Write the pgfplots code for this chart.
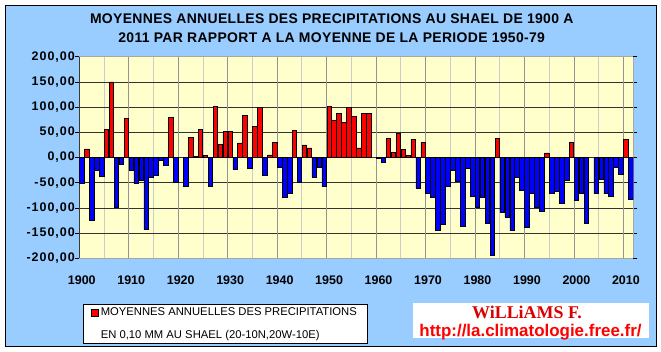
\documentclass[border=0pt]{standalone}
\usepackage{pgfplots}
\pgfplotsset{compat=1.18}
\usepackage{pgfplotstable}
\usepackage{fontspec}
\setmainfont{Liberation Sans}
\newfontfamily\wserif{Liberation Serif}
\newfontfamily\titlefont[LetterSpace=2.4]{Liberation Sans}
\newfontfamily\ylabfont[LetterSpace=8]{Liberation Sans}
\definecolor{bgblue}{HTML}{99CCFF}
\definecolor{plotbg}{HTML}{FFFFCC}
\definecolor{barred}{HTML}{FF0000}
\definecolor{barblue}{HTML}{0000FF}

\pgfplotstableread{
year val
1900 -52
1901 17
1902 -124
1903 -25
1904 -38
1905 55
1906 150
1907 -98
1908 -14
1909 78
1910 -25
1911 -52
1912 -45
1913 -143
1914 -40
1915 -36
1916 -6
1917 -15
1918 80
1919 -50
1920 0
1921 -57
1922 40
1923 2
1924 55
1925 4
1926 -57
1927 102
1928 26
1929 51
1930 51
1931 -24
1932 29
1933 84
1934 -22
1935 61
1936 100
1937 -36
1938 5
1939 30
1940 -19
1941 -79
1942 -71
1943 54
1944 -50
1945 25
1946 19
1947 -39
1948 -20
1949 -57
1950 102
1951 73
1952 88
1953 69
1954 100
1955 81
1956 19
1957 88
1958 88
1959 0
1960 -2
1961 -9
1962 38
1963 10
1964 48
1965 16
1966 4
1967 36
1968 -61
1969 30
1970 -71
1971 -78
1972 -145
1973 -133
1974 -57
1975 -25
1976 -47
1977 -137
1978 -22
1979 -77
1980 -98
1981 -78
1982 -131
1983 -194
1984 38
1985 -108
1986 -118
1987 -145
1988 -40
1989 -65
1990 -139
1991 -72
1992 -98
1993 -107
1994 9
1995 -72
1996 -68
1997 -90
1998 -46
1999 30
2000 -84
2001 -71
2002 -131
2003 0
2004 -71
2005 -44
2006 -72
2007 -77
2008 -19
2009 -34
2010 36
2011 -82
}\rain

\begin{document}
\begin{tikzpicture}
\fill[white] (-79.3bp,-93.7bp) rectangle (581.7bp,258.3bp);
\draw[fill=bgblue, draw=black, line width=0.8bp] (-74.3bp,-87.7bp) rectangle (576.7bp,253.3bp);
\begin{axis}[
  scale only axis,
  width=554bp, height=201.6bp,
  xmin=1899.5, xmax=2011.5,
  ymin=-200, ymax=200,
  axis background/.style={fill=plotbg},
  separate axis lines,
  axis line style={draw=gray!70, line width=0.8bp},
  tick align=outside,
  major tick length=4bp,
  minor tick length=0pt,
  xtick={1900,1910,1920,1930,1940,1950,1960,1970,1980,1990,2000,2010},
  xticklabels={1900,1910,1920,1930,1940,1950,1960,1970,1980,1990,2000,2010},
  xtick style={draw=none},
  minor xtick={1904.5,1914.5,1924.5,1934.5,1944.5,1954.5,1964.5,1974.5,1984.5,1994.5,2004.5},
  xminorgrids=true,
  minor x grid style={gray!40, line width=0.8bp},
  extra x ticks={1909.5,1919.5,1929.5,1939.5,1949.5,1959.5,1969.5,1979.5,1989.5,1999.5,2009.5},
  extra x tick labels={},
  extra x tick style={grid=major, major tick length=0pt, major grid style={gray!85, line width=0.8bp}},
  ytick={-200,-150,-100,-50,0,50,100,150,200},
  ymajorgrids=true,
  major y grid style={black!80, line width=0.7bp},
  ytick style={black, line width=0.7bp},
  scaled y ticks=false,
  xticklabel style={yshift=-10bp, font=\bfseries\fontsize{12.5}{15}\selectfont},
  yticklabel style={xshift=3bp, font=\ylabfont\bfseries\fontsize{12.5}{15}\selectfont, /pgf/number format/.cd, fixed, fixed zerofill, precision=2, use comma, 1000 sep={}, assume math mode=true},
  title={MOYENNES ANNUELLES DES PRECIPITATIONS AU SHAEL DE 1900 A\\2011 PAR RAPPORT A LA MOYENNE DE LA PERIODE 1950-79},
  title style={at={(axis description cs:0.4556,1)}, anchor=south, align=center, inner sep=0pt, yshift=7.4bp, font=\titlefont\bfseries\fontsize{14}{19.3}\selectfont},
  legend style={at={(axis description cs:0.0067,-0.2247)}, anchor=north west, draw=black, fill=white, line width=0.6bp, inner xsep=8bp, inner ysep=1bp, row sep=7.7bp, font=\fontsize{11.3}{13}\selectfont, nodes={text height=8.5bp, text depth=2.5bp}},
  legend cell align=left,
]
\addplot[ybar, bar width=0.92, fill=barred, draw=black, line width=0.6bp,
  restrict y to domain=0.5:300,
  legend image code/.code={\draw[fill=barred, draw=black, line width=0.5bp] (0bp,-3.5bp) rectangle (7bp,3.5bp);}]
  table[x=year, y=val] {\rain};
\addlegendentry{MOYENNES ANNUELLES DES PRECIPITATIONS}
\addlegendimage{empty legend}
\addlegendentry{EN 0,10 MM AU SHAEL (20-10N,20W-10E)}
\addplot[ybar, bar width=0.92, fill=barblue, draw=black, line width=0.6bp,
  restrict y to domain=-300:-0.5, forget plot]
  table[x=year, y=val] {\rain};
\draw[black, line width=0.8bp] (rel axis cs:0,0) -- (rel axis cs:0,1);
\end{axis}
\fill[white] (333.7bp,-44.7bp) rectangle (569.7bp,-79.7bp);
\node[anchor=base, text=red!85!black, font=\wserif\bfseries\fontsize{18}{20}\selectfont, inner sep=0pt] at (447.7bp,-60bp) {WiLLiAMS F.};
\node[anchor=base, text=red, font=\bfseries\fontsize{17}{19}\selectfont, inner sep=0pt] at (451.2bp,-78.4bp) {http://la.climatologie.free.fr/};
\pgfresetboundingbox
\useasboundingbox (-79.3bp,-93.7bp) rectangle (581.7bp,258.3bp);
\end{tikzpicture}
\end{document}
